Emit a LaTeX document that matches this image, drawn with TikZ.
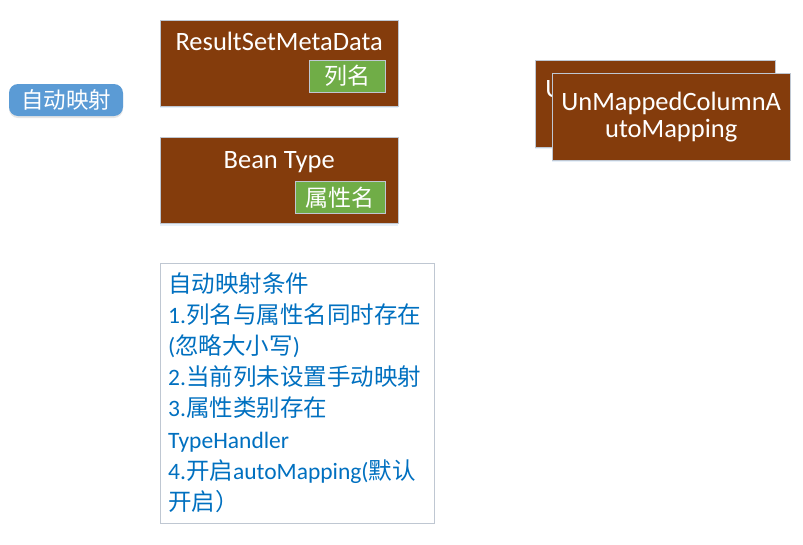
\documentclass[tikz,border=0pt]{standalone}
\usepackage{fontspec}
\setmainfont{Carlito}
\newfontfamily\cjk{Noto Sans CJK SC}
\usetikzlibrary{positioning,shadows}
\definecolor{brownbox}{HTML}{843C0C}
\definecolor{greentag}{HTML}{70AD47}
\definecolor{bluepill}{HTML}{5B9BD5}
\definecolor{bluetext}{HTML}{0070C0}
\definecolor{edgegray}{HTML}{BFC7D2}

\begin{document}
\begin{tikzpicture}[x=1pt,y=-1pt,box/.style={draw=edgegray,fill=brownbox,text=white,inner sep=0pt,minimum width=238pt,font=\fontsize{26.5}{27}\selectfont,drop shadow={shadow xshift=0pt,shadow yshift=-2pt,opacity=0.15,fill=bluepill}},metabox/.style={box,text height=30.5pt,text depth=55.5pt},tag/.style={draw=edgegray,fill=greentag,text=white,inner sep=0pt,minimum height=32pt,font=\fontsize{23}{26}\selectfont\cjk,anchor=south east},pill/.style={fill=bluepill,text=white,rounded corners=9pt,minimum width=114pt,minimum height=32pt,inner sep=0pt,font=\fontsize{22.5}{26}\selectfont\cjk,drop shadow={shadow xshift=0pt,shadow yshift=-2pt,opacity=0.2}},note/.style={draw=edgegray,fill=white,text=bluetext,align=left,text width=258pt,inner xsep=8pt,inner ysep=0pt,text height=29pt,text depth=231pt,font=\fontsize{23.5}{31.2}\selectfont}]
\useasboundingbox (0,0) rectangle (803,544);
\node[pill] (auto) at (66,100) {自动映射};
\node[metabox,anchor=north west] (rsmd) at (160,20) {ResultSetMetaData};
\node[tag,minimum width=76pt] (col) at ([shift={(-13,-14)}]rsmd.south east) {列名};
\node[metabox,below=31pt of rsmd] (bean) {Bean Type};
\node[tag,minimum width=90pt] (prop) at ([shift={(-13,-10)}]bean.south east) {属性名};
\node[note,below=39pt of bean.south west,anchor=north west] (cond) {{\cjk 自动映射条件}\\1.{\cjk 列名与属性名同时存在}\\({\cjk 忽略大小写})\\2.{\cjk 当前列未设置手动映射}\\3.{\cjk 属性类别存在}\\TypeHandler\\4.{\cjk 开启}autoMapping({\cjk 默认}\\{\cjk 开启）}};
\node[box,align=center,minimum width=240pt,minimum height=87pt,anchor=north west] (umcBack) at (535,60) {UnMappedColumnA\\utoMapping};
\node[box,align=center,minimum height=87pt,anchor=north west] (umc) at ([shift={(17,13)}]umcBack.north west) {UnMappedColumnA\\utoMapping};
\end{tikzpicture}
\end{document}
